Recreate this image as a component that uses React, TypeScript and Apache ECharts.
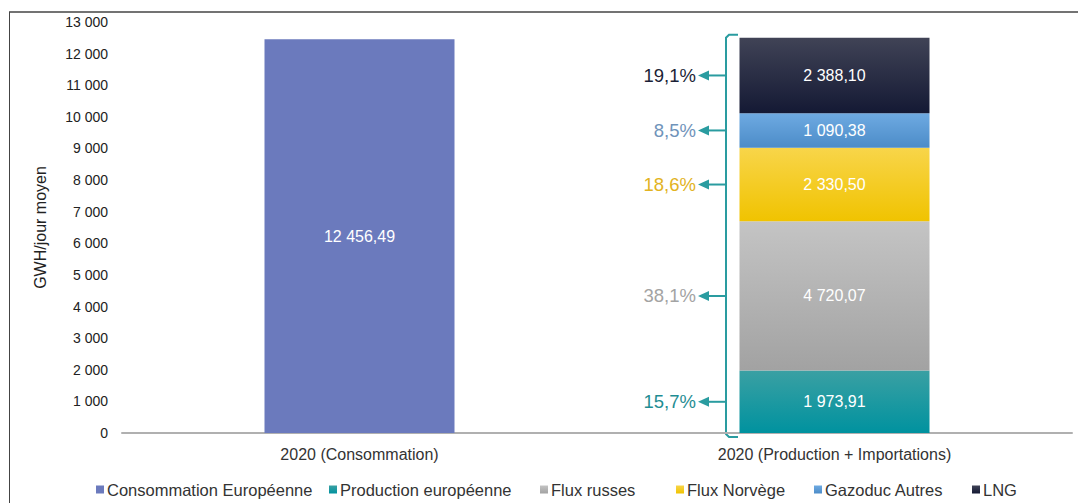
import React, { useEffect, useRef } from "react";
import * as echarts from "echarts";

const categories = ["2020 (Consommation)", "2020 (Production + Importations)"];
const consommation = [12456.49, null];
const production = [null, 1973.91];
const fluxRusses = [null, 4720.07];
const fluxNorvege = [null, 2330.5];
const gazoducAutres = [null, 1090.38];
const lng = [null, 2388.1];
const shares = ["15,7%", "38,1%", "18,6%", "8,5%", "19,1%"];
const shareColors = ["#1f8d93", "#a3a3a3", "#e2b322", "#6f93ba", "#1b1f36"];
const legendNames = ["Consommation Européenne", "Production européenne", "Flux russes", "Flux Norvège", "Gazoduc Autres", "LNG"];
const legendLeft = [96, 329, 540, 676, 814, 972];

const fmt = (v: number) => {
  const [i, d] = v.toFixed(2).split(".");
  return i.replace(/\B(?=(\d{3})+(?!\d))/g, " ") + "," + d;
};
const fmtInt = (v: number) => String(v).replace(/\B(?=(\d{3})+(?!\d))/g, " ");

const grad = (top: string, bottom: string) =>
  new echarts.graphic.LinearGradient(0, 0, 0, 1, [
    { offset: 0, color: top },
    { offset: 1, color: bottom },
  ]);

export default function App() {
  const ref = useRef<HTMLDivElement>(null);
  useEffect(() => {
    document.body.style.margin = "0";
    const chart = echarts.init(ref.current!, null, { renderer: "svg" });
    const font = "Liberation Sans, Arial, sans-serif";
    const label = {
      show: true,
      position: "inside",
      color: "#ffffff",
      fontSize: 16,
      fontFamily: font,
      formatter: (p: any) => fmt(p.value),
    };
    const stackSeries = [
      { name: legendNames[1], data: production, color: "#139ba1", fill: grad("#3aa0a3", "#00929f") },
      { name: legendNames[2], data: fluxRusses, color: "#b3b3b3", fill: grad("#c4c4c4", "#a2a2a2") },
      { name: legendNames[3], data: fluxNorvege, color: "#f2c500", fill: grad("#f8d54a", "#f0c300") },
      { name: legendNames[4], data: gazoducAutres, color: "#5d9cd8", fill: grad("#6eaae2", "#4c8cc8") },
      { name: legendNames[5], data: lng, color: "#1b1f38", fill: grad("#404356", "#141934") },
    ];
    chart.setOption({
      animation: false,
      grid: { left: 122, right: 6, top: 22, bottom: 70 },
      legend: legendNames.map((n, i) => ({
        top: 481,
        left: legendLeft[i],
        padding: 0,
        itemWidth: 8,
        itemHeight: 8,
        icon: "rect",
        textStyle: { fontSize: 16.5, color: "#333", fontFamily: font, padding: [0, 0, 0, -2] },
        data: [n],
      })),
      xAxis: {
        type: "category",
        data: categories,
        axisTick: { show: false },
        axisLine: { lineStyle: { color: "#b0b0b0", width: 2 } },
        axisLabel: { fontSize: 16, color: "#333", fontFamily: font, margin: 13 },
      },
      yAxis: {
        type: "value",
        min: 0,
        max: 13000,
        interval: 1000,
        name: "GWH/jour moyen",
        nameLocation: "middle",
        nameGap: 74,
        nameTextStyle: { fontSize: 16, color: "#222", fontFamily: font },
        splitLine: { show: false },
        axisLine: { show: false },
        axisTick: { show: false },
        axisLabel: { fontSize: 14, color: "#222", fontFamily: font, margin: 14, formatter: (v: number) => fmtInt(v) },
      },
      series: [
        {
          name: legendNames[0],
          type: "bar",
          stack: "a",
          data: consommation,
          barWidth: "40%",
          barGap: "-100%",
          itemStyle: { color: "#6b7abd" },
          label,
        },
        ...stackSeries.map((s) => ({
          name: s.name,
          type: "bar",
          stack: "b",
          data: s.data,
          barWidth: "40%",
          barGap: "-100%",
          itemStyle: { color: s.fill },
          label,
        })),
      ],
      color: ["#6b7abd", ...stackSeries.map((s) => s.color)],
    });

    // annotations
    const vals = [production[1], fluxRusses[1], fluxNorvege[1], gazoducAutres[1], lng[1]] as number[];
    const total = vals.reduce((a, b) => a + b, 0);
    const teal = "#2a9ca0";
    const bx = 726;
    const yBottom = (chart.convertToPixel({ yAxisIndex: 0 }, 0) as number) + 4;
    const yTop = (chart.convertToPixel({ yAxisIndex: 0 }, total) as number) - 3;
    const elements: any[] = [
      { type: "line", shape: { x1: 9.5, y1: 12, x2: 9.5, y2: 503 }, style: { stroke: "#444", lineWidth: 1 } },
      { type: "line", shape: { x1: 9, y1: 12, x2: 1078, y2: 12 }, style: { stroke: "#444", lineWidth: 1.5 } },
      {
        type: "polyline",
        shape: { points: [[bx + 12, yTop], [bx + 3, yTop], [bx, yTop + 3], [bx, yBottom - 3], [bx + 3, yBottom], [bx + 12, yBottom]] },
        style: { stroke: teal, lineWidth: 2, fill: "none" },
      },
    ];
    let cum = 0;
    vals.forEach((v, i) => {
      const y = chart.convertToPixel({ yAxisIndex: 0 }, cum + v / 2) as number;
      cum += v;
      elements.push({ type: "line", shape: { x1: bx, y1: y, x2: 704, y2: y }, style: { stroke: teal, lineWidth: 2 } });
      elements.push({ type: "polygon", shape: { points: [[698, y], [709, y - 5], [709, y + 5]] }, style: { fill: teal } });
      elements.push({
        type: "text",
        x: 696,
        y,
        style: { text: shares[i], fill: shareColors[i], fontSize: 18.5, fontFamily: font, align: "right", verticalAlign: "middle" },
      });
    });
    chart.setOption({ graphic: { elements } });
    return () => chart.dispose();
  }, []);
  return <div ref={ref} style={{ position: "absolute", left: 0, top: 0, width: 1078, height: 503 }} />;
}
